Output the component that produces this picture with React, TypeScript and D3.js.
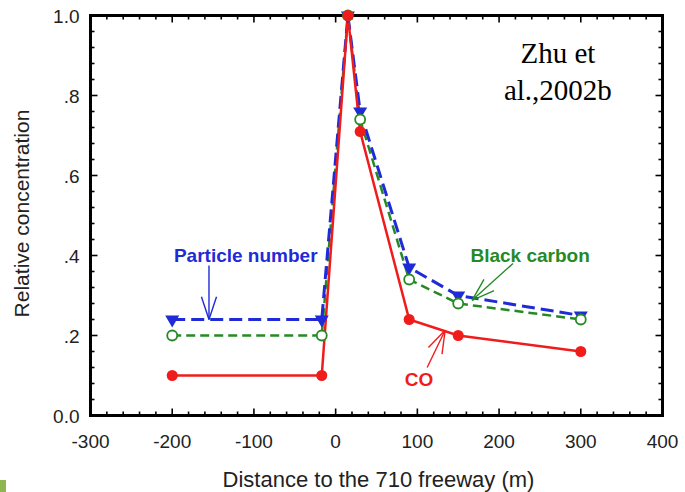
import React, { useRef, useEffect } from "react";
import * as d3 from "d3";

// distance from the freeway (m)
const distance = [-200, -17, 15, 30, 90, 150, 300];
const particleNumber = [0.24, 0.24, 1.0, 0.76, 0.37, 0.3, 0.25];
const blackCarbon = [0.2, 0.2, 1.0, 0.74, 0.34, 0.28, 0.24];
const co = [0.1, 0.1, 1.0, 0.71, 0.24, 0.2, 0.16];

const xTickValues = [-300, -200, -100, 0, 100, 200, 300, 400];
const yTickValues = [0, 0.2, 0.4, 0.6, 0.8, 1.0];
const yTickLabels = ["0.0", ".2", ".4", ".6", ".8", "1.0"];

const BLUE = "#1f2bd6";
const GREEN = "#258a25";
const RED = "#f01c1c";

interface Pt {
  x: number;
  y: number;
}

const App: React.FC = () => {
  const ref = useRef<SVGSVGElement | null>(null);
  const width = 685;
  const height = 492;

  useEffect(() => {
    const margin = { top: 15.5, right: 22.5, bottom: 76.5, left: 90.5 };
    const w = width - margin.left - margin.right;
    const h = height - margin.top - margin.bottom;

    d3.select(ref.current).selectAll("*").remove();
    const root = d3.select(ref.current).attr("width", width).attr("height", height);

    // little green slide decoration in the corner
    root.append("rect").attr("x", 0).attr("y", 480).attr("width", 6).attr("height", 12).attr("fill", "#8db650");

    const svg = root.append("g").attr("transform", `translate(${margin.left},${margin.top})`);

    const x = d3.scaleLinear().domain([-300, 400]).range([0, w]);
    const y = d3.scaleLinear().domain([0, 1]).range([h, 0]);

    const font = "'Liberation Sans', Arial, sans-serif";

    // inward ticks on all four sides
    const xMinor = d3.range(-300, 401, 20);
    const yMinor = d3.range(0, 1.0001, 0.04);
    const ticks = svg.append("g").attr("stroke", "#000").attr("stroke-width", 1.6);
    xMinor.forEach((v) => {
      const len = Math.abs(v % 100) < 1e-6 ? 7 : 4;
      ticks.append("line").attr("x1", x(v)).attr("x2", x(v)).attr("y1", h).attr("y2", h - len);
      ticks.append("line").attr("x1", x(v)).attr("x2", x(v)).attr("y1", 0).attr("y2", len);
    });
    yMinor.forEach((v) => {
      const major = Math.abs(Math.round(v * 100) % 20) === 0;
      const len = major ? 7 : 4;
      ticks.append("line").attr("y1", y(v)).attr("y2", y(v)).attr("x1", 0).attr("x2", len);
      ticks.append("line").attr("y1", y(v)).attr("y2", y(v)).attr("x1", w).attr("x2", w - len);
    });

    // frame
    svg
      .append("rect")
      .attr("x", 0)
      .attr("y", 0)
      .attr("width", w)
      .attr("height", h)
      .attr("fill", "none")
      .attr("stroke", "#000")
      .attr("stroke-width", 3);

    // tick labels
    svg
      .selectAll(".xlab")
      .data(xTickValues)
      .enter()
      .append("text")
      .attr("x", (d) => x(d))
      .attr("y", h + 32)
      .attr("text-anchor", "middle")
      .attr("font-family", font)
      .attr("font-size", 19)
      .attr("fill", "#222")
      .text((d) => String(d));

    svg
      .selectAll(".ylab")
      .data(yTickValues)
      .enter()
      .append("text")
      .attr("x", -11)
      .attr("y", (d) => y(d) + 7)
      .attr("text-anchor", "end")
      .attr("font-family", font)
      .attr("font-size", 19)
      .attr("fill", "#222")
      .text((d, i) => yTickLabels[i]);

    // axis titles
    svg
      .append("text")
      .attr("x", w / 2 + 2)
      .attr("y", h + 71)
      .attr("text-anchor", "middle")
      .attr("font-family", font)
      .attr("font-size", 22)
      .attr("fill", "#222")
      .text("Distance to the 710 freeway (m)");
    svg
      .append("text")
      .attr("transform", "rotate(-90)")
      .attr("x", -(h / 2) + 2)
      .attr("y", -62)
      .attr("text-anchor", "middle")
      .attr("font-family", font)
      .attr("font-size", 21)
      .attr("fill", "#222")
      .text("Relative concentration");

    const line = d3
      .line<number>()
      .x((d, i) => x(distance[i]))
      .y((d) => y(d));

    // black carbon (green dashed, open circles)
    svg
      .append("path")
      .datum(blackCarbon)
      .attr("fill", "none")
      .attr("stroke", GREEN)
      .attr("stroke-width", 2.5)
      .attr("stroke-dasharray", "9,5")
      .attr("d", line);

    // particle number (blue dashed, down triangles)
    svg
      .append("path")
      .datum(particleNumber)
      .attr("fill", "none")
      .attr("stroke", BLUE)
      .attr("stroke-width", 3)
      .attr("stroke-dasharray", "13,6")
      .attr("d", line);

    // CO (red solid, filled circles)
    svg
      .append("path")
      .datum(co)
      .attr("fill", "none")
      .attr("stroke", RED)
      .attr("stroke-width", 2.5)
      .attr("d", line);

    const tri = d3.symbol().type(d3.symbolTriangle).size(85);
    svg
      .selectAll(".pn")
      .data(particleNumber)
      .enter()
      .append("path")
      .attr("d", tri)
      .attr("transform", (d, i) => `translate(${x(distance[i])},${y(d)}) rotate(180)`)
      .attr("fill", BLUE);

    svg
      .selectAll(".bc")
      .data(blackCarbon)
      .enter()
      .append("circle")
      .attr("cx", (d, i) => x(distance[i]))
      .attr("cy", (d) => y(d))
      .attr("r", 5)
      .attr("fill", "#fff")
      .attr("stroke", GREEN)
      .attr("stroke-width", 1.8);

    svg
      .selectAll(".co")
      .data(co)
      .enter()
      .append("circle")
      .attr("cx", (d, i) => x(distance[i]))
      .attr("cy", (d) => y(d))
      .attr("r", 5.5)
      .attr("fill", RED);

    // annotation arrows (open V heads)
    const arrow = (tail: Pt, tip: Pt, color: string) => {
      const x1 = x(tail.x);
      const y1 = y(tail.y);
      const x2 = x(tip.x);
      const y2 = y(tip.y);
      const ang = Math.atan2(y1 - y2, x1 - x2);
      const g = svg.append("g").attr("stroke", color).attr("stroke-width", 1.4).attr("fill", "none");
      g.append("line").attr("x1", x1).attr("y1", y1).attr("x2", x2).attr("y2", y2);
      [-0.32, 0.32].forEach((da) => {
        g.append("line")
          .attr("x1", x2)
          .attr("y1", y2)
          .attr("x2", x2 + 24 * Math.cos(ang + da))
          .attr("y2", y2 + 24 * Math.sin(ang + da));
      });
    };

    const label = (pos: Pt, text: string, color: string) => {
      svg
        .append("text")
        .attr("x", x(pos.x))
        .attr("y", y(pos.y))
        .attr("text-anchor", "middle")
        .attr("font-family", font)
        .attr("font-weight", "bold")
        .attr("font-size", 19)
        .attr("fill", color)
        .text(text);
    };

    label({ x: -110, y: 0.385 }, "Particle number", BLUE);
    arrow({ x: -155, y: 0.375 }, { x: -155, y: 0.24 }, BLUE);

    label({ x: 238, y: 0.385 }, "Black carbon", GREEN);
    arrow({ x: 217, y: 0.38 }, { x: 167, y: 0.288 }, GREEN);

    label({ x: 102, y: 0.075 }, "CO", RED);
    arrow({ x: 112, y: 0.12 }, { x: 134, y: 0.213 }, RED);

    // citation text
    const cite = svg
      .append("text")
      .attr("text-anchor", "middle")
      .attr("font-family", "'Liberation Serif', 'Times New Roman', serif")
      .attr("font-size", 29)
      .attr("fill", "#000");
    cite.append("tspan").attr("x", x(272)).attr("y", 47).text("Zhu et");
    cite.append("tspan").attr("x", x(272)).attr("y", 84).text("al.,2002b");
  }, []);

  return (
    <div style={{ position: "absolute", left: 0, top: 0 }}>
      <svg ref={ref} style={{ display: "block" }} />
    </div>
  );
};

export default App;
